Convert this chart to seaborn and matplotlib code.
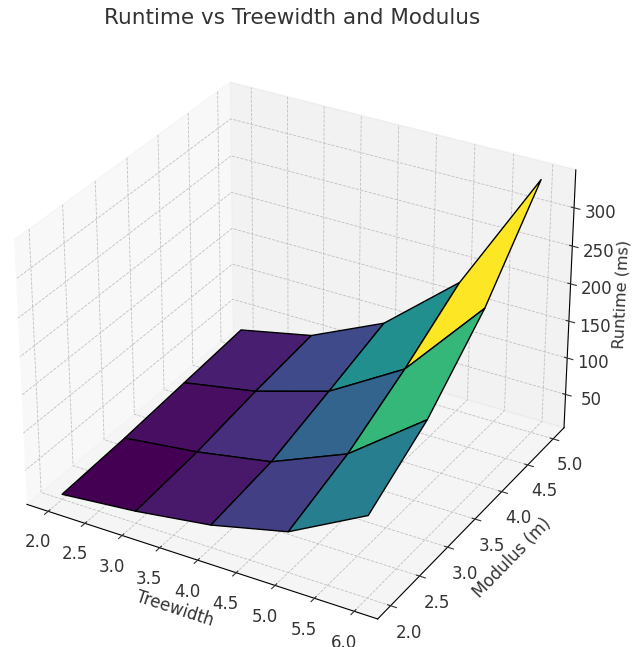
import numpy as np
import matplotlib
matplotlib.use('Agg')
import matplotlib.pyplot as plt
import seaborn as sns

treewidth = [2, 3, 4, 5, 6]
modulus = [2, 3, 4, 5]
runtime = [
    [10.6, 20, 34, 58, 112],
    [15, 27, 45, 87, 163],
    [22, 40, 70, 130, 239],
    [29, 50, 96, 180, 342],
]

sns.set_context('notebook', rc={'axes.linewidth': 0.8, 'xtick.major.width': 0.8,
                                'ytick.major.width': 0.8, 'grid.linewidth': 0.6})
plt.rcParams['text.color'] = '#333333'
plt.rcParams['axes.labelcolor'] = '#333333'
plt.rcParams['xtick.color'] = '#333333'
plt.rcParams['ytick.color'] = '#333333'
plt.rcParams['grid.linestyle'] = '--'
plt.rcParams['grid.color'] = '#c0c0c0'

X, Y = np.meshgrid(treewidth, modulus)
Z = np.array(runtime)

fig = plt.figure(figsize=(6.32, 6.47), dpi=100)
ax = fig.add_axes([-0.032, -0.029, 0.988, 0.988], projection='3d')
ax.plot_surface(X, Y, Z, cmap='viridis', edgecolor='k', linewidth=1)
ax.set_xlabel('Treewidth', fontsize=12)
ax.set_ylabel('Modulus (m)', fontsize=12)
ax.set_zlabel('Runtime (ms)', fontsize=11.6, labelpad=2)
ax.tick_params(labelsize=12)
fig.text(0.462, 0.972, 'Runtime vs Treewidth and Modulus', fontsize=15.5, ha='center', va='center')
fig.savefig('out.png', dpi=100)
